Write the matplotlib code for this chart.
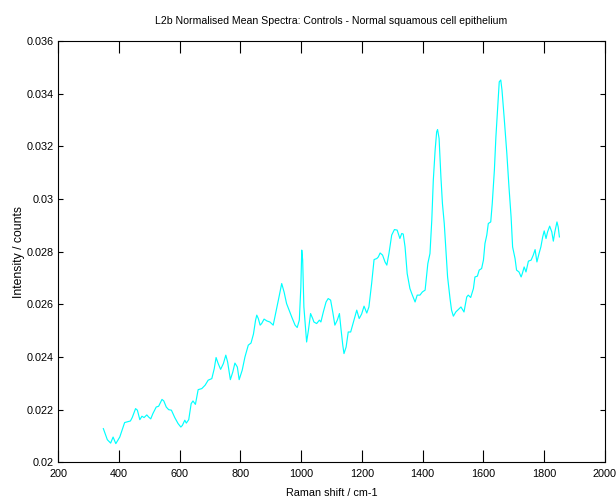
import matplotlib
matplotlib.use("Agg")
import matplotlib.pyplot as plt
from matplotlib.ticker import FormatStrFormatter, FuncFormatter

# Mean Raman spectrum, normal squamous epithelium controls
raman_shift = [
    349, 362, 373, 381, 390, 403, 419, 438, 444, 455, 461, 469, 476, 483, 492,
    498, 505, 512, 523, 531, 542, 548, 556, 564, 573, 584, 595, 604, 609, 617,
    622, 630, 638, 644, 652, 661, 673, 684, 694, 706, 714, 720, 727, 735, 744,
    752, 758, 767, 775, 782, 790, 796, 806, 815, 826, 835, 843, 850, 854, 859,
    865, 870, 878, 887, 897, 908, 916, 925, 936, 944, 952, 963, 969, 980, 987,
    994, 999, 1002, 1005, 1009, 1018, 1024, 1031, 1038, 1042, 1051, 1060, 1065,
    1073, 1082, 1089, 1097, 1104, 1111, 1119, 1126, 1131, 1137, 1141, 1148,
    1155, 1163, 1172, 1183, 1191, 1199, 1207, 1216, 1223, 1232, 1240, 1249,
    1254, 1260, 1268, 1276, 1282, 1289, 1298, 1307, 1316, 1325, 1331, 1336,
    1342, 1349, 1358, 1366, 1375, 1382, 1391, 1399, 1408, 1417, 1424, 1430,
    1435, 1441, 1446, 1449, 1454, 1460, 1465, 1471, 1477, 1482, 1490, 1495,
    1501, 1509, 1517, 1526, 1536, 1545, 1550, 1558, 1567, 1572, 1580, 1586,
    1594, 1600, 1605, 1611, 1616, 1624, 1629, 1636, 1641, 1647, 1652, 1657,
    1661, 1668, 1677, 1684, 1691, 1696, 1704, 1709, 1717, 1724, 1728, 1734,
    1740, 1748, 1757, 1764, 1770, 1776, 1783, 1789, 1795, 1800, 1806, 1811,
    1818, 1825, 1830, 1835, 1842, 1846, 1850,
]
intensity = [
    0.02128, 0.02086, 0.02073, 0.02096, 0.02071, 0.02096, 0.02151, 0.02157,
    0.02170, 0.02204, 0.02198, 0.02162, 0.02175, 0.02170, 0.02180, 0.02172,
    0.02165, 0.02185, 0.02210, 0.02213, 0.02239, 0.02233, 0.02210, 0.02200,
    0.02198, 0.02170, 0.02147, 0.02134, 0.02140, 0.02160, 0.02149, 0.02162,
    0.02223, 0.02233, 0.02220, 0.02276, 0.02280, 0.02293, 0.02312, 0.02318,
    0.02356, 0.02398, 0.02375, 0.02353, 0.02375, 0.02407, 0.02381, 0.02314,
    0.02343, 0.02377, 0.02362, 0.02314, 0.02350, 0.02400, 0.02445, 0.02453,
    0.02487, 0.02540, 0.02559, 0.02546, 0.02521, 0.02527, 0.02544, 0.02537,
    0.02533, 0.02521, 0.02565, 0.02616, 0.02679, 0.02646, 0.02603, 0.02570,
    0.02552, 0.02521, 0.02512, 0.02540, 0.02666, 0.02806, 0.02768, 0.02590,
    0.02457, 0.02502, 0.02565, 0.02546, 0.02533, 0.02527, 0.02540, 0.02533,
    0.02571, 0.02609, 0.02622, 0.02616, 0.02571, 0.02521, 0.02540, 0.02565,
    0.02508, 0.02445, 0.02413, 0.02438, 0.02495, 0.02495, 0.02533, 0.02578,
    0.02546, 0.02563, 0.02593, 0.02567, 0.02590, 0.02679, 0.02770, 0.02774,
    0.02780, 0.02795, 0.02787, 0.02761, 0.02749, 0.02793, 0.02863, 0.02884,
    0.02882, 0.02850, 0.02869, 0.02867, 0.02818, 0.02717, 0.02660, 0.02635,
    0.02609, 0.02635, 0.02635, 0.02647, 0.02654, 0.02755, 0.02793, 0.02920,
    0.03072, 0.03186, 0.03255, 0.03264, 0.03230, 0.03084, 0.02983, 0.02907,
    0.02793, 0.02704, 0.02622, 0.02578, 0.02555, 0.02571, 0.02580, 0.02590,
    0.02571, 0.02628, 0.02635, 0.02626, 0.02660, 0.02704, 0.02707, 0.02730,
    0.02736, 0.02768, 0.02831, 0.02863, 0.02907, 0.02913, 0.02983, 0.03110,
    0.03236, 0.03350, 0.03445, 0.03452, 0.03414, 0.03312, 0.03173, 0.03046,
    0.02932, 0.02818, 0.02774, 0.02730, 0.02723, 0.02704, 0.02717, 0.02742,
    0.02723, 0.02764, 0.02768, 0.02787, 0.02808, 0.02761, 0.02793, 0.02818,
    0.02856, 0.02879, 0.02850, 0.02875, 0.02897, 0.02875, 0.02840, 0.02875,
    0.02913, 0.02894, 0.02856,
]

x_ticks = [200, 400, 600, 800, 1000, 1200, 1400, 1600, 1800, 2000]
y_ticks = [0.020, 0.022, 0.024, 0.026, 0.028, 0.030, 0.032, 0.034, 0.036]

plt.rcParams["font.family"] = ["Liberation Sans", "DejaVu Sans"]

fig = plt.figure(figsize=(6.16, 5.01), dpi=100)
ax = fig.add_axes([0.0943, 0.0772, 0.8878, 0.8409])

ax.plot(raman_shift, intensity, color="#00ffff", linewidth=0.85)

ax.set_xlim(200, 2000)
ax.set_ylim(0.020, 0.036)
ax.set_xticks(x_ticks)
ax.set_yticks(y_ticks)
ax.xaxis.set_major_formatter(FormatStrFormatter("%d"))
ax.yaxis.set_major_formatter(FuncFormatter(lambda v, p: f"{v:g}"))

ax.tick_params(axis="x", direction="in", length=8.5, width=0.8,
               top=True, bottom=True, labelsize=7.8, pad=5, colors="black")
ax.tick_params(axis="y", direction="in", length=3.6, width=0.8,
               left=True, right=True, labelsize=7.8, pad=3, colors="black")
for s in ax.spines.values():
    s.set_linewidth(0.8)
    s.set_color("black")

ax.set_title("L2b Normalised Mean Spectra: Controls - Normal squamous cell epithelium",
             fontsize=7.6, pad=12)
ax.set_xlabel("Raman shift / cm-1", fontsize=7.8)
ax.xaxis.set_label_coords(0.5, -0.060)
ax.set_ylabel("Intensity / counts", fontsize=8.8)
ax.yaxis.set_label_coords(-0.061, 0.5)

fig.savefig("out.png", dpi=100, facecolor="white")
